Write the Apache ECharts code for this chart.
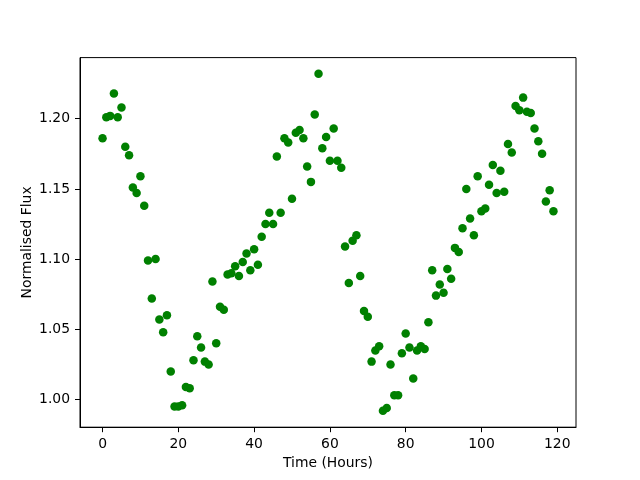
<!DOCTYPE html>
<html>
<head>
<meta charset="utf-8">
<script src="https://cdn.jsdelivr.net/npm/echarts@6/dist/echarts.min.js"></script>
<style>
  html, body { margin: 0; padding: 0; background: #fff; }
  #chart { width: 640px; height: 480px; }
</style>
</head>
<body>
<div id="chart"></div>
<script>
// time in hours, one reading per hour
const hours = Array.from({ length: 120 }, (_, i) => i)

const flux = [
    1.186, 1.201, 1.202, 1.218, 1.201, 1.208, 1.180, 1.174, 1.151, 1.147,
    1.159, 1.138, 1.099, 1.072, 1.100, 1.057, 1.048, 1.060, 1.020, 0.995,
    0.995, 0.996, 1.009, 1.008, 1.028, 1.045, 1.037, 1.027, 1.025, 1.084,
    1.040, 1.066, 1.064, 1.089, 1.090, 1.095, 1.088, 1.098, 1.104, 1.092,
    1.107, 1.096, 1.116, 1.125, 1.133, 1.125, 1.173, 1.133, 1.186, 1.183,
    1.143, 1.190, 1.192, 1.186, 1.166, 1.155, 1.203, 1.232, 1.179, 1.187,
    1.170, 1.193, 1.170, 1.165, 1.109, 1.083, 1.113, 1.117, 1.088, 1.063,
    1.059, 1.027, 1.035, 1.038, 0.992, 0.994, 1.025, 1.003, 1.003, 1.033,
    1.047, 1.037, 1.015, 1.035, 1.038, 1.036, 1.055, 1.092, 1.074, 1.082,
    1.076, 1.093, 1.086, 1.108, 1.105, 1.122, 1.150, 1.129, 1.117, 1.159,
    1.134, 1.136, 1.153, 1.167, 1.147, 1.163, 1.148, 1.182, 1.176, 1.209,
    1.206, 1.215, 1.205, 1.204, 1.193, 1.184, 1.175, 1.141, 1.149, 1.134
]

const xTicks = [0, 20, 40, 60, 80, 100, 120]
const yTicks = [1.00, 1.05, 1.10, 1.15, 1.20]

const font = 'DejaVu Sans'
const fontSize = 13.9

const chart = echarts.init(document.getElementById('chart'), null, { renderer: 'canvas' })

chart.setOption({
    animation: false,
    backgroundColor: '#fff',
    grid: {
        left: 80,
        right: 64,
        top: 57.6,
        bottom: 52.8,
        show: true,
        borderColor: '#000',
        borderWidth: 1,
        containLabel: false
    },
    xAxis: {
        type: 'value',
        min: -5.95,
        max: 124.95,
        name: 'Time (Hours)',
        nameLocation: 'middle',
        nameGap: 29,
        nameMoveOverlap: false,
        nameTextStyle: { fontFamily: font, fontSize: fontSize, color: '#000' },
        splitLine: { show: false },
        axisLine: { show: true, onZero: false, lineStyle: { color: '#000', width: 1 } },
        axisTick: { show: true, length: 5, customValues: xTicks, lineStyle: { color: '#000' } },
        axisLabel: {
            customValues: xTicks,
            margin: 10,
            fontFamily: font,
            fontSize: fontSize,
            color: '#000'
        }
    },
    yAxis: {
        type: 'value',
        min: 0.9803,
        max: 1.2435,
        name: 'Normalised Flux',
        nameLocation: 'middle',
        nameGap: 46,
        nameMoveOverlap: false,
        nameTextStyle: { fontFamily: font, fontSize: fontSize, color: '#000' },
        splitLine: { show: false },
        axisLine: { show: true, onZero: false, lineStyle: { color: '#000', width: 1 } },
        axisTick: { show: true, length: 5, customValues: yTicks, lineStyle: { color: '#000' } },
        axisLabel: {
            customValues: yTicks,
            margin: 10,
            fontFamily: font,
            fontSize: fontSize,
            color: '#000',
            formatter: v => v.toFixed(2)
        }
    },
    series: [
        {
            type: 'scatter',
            data: hours.map((h, i) => [h, flux[i]]),
            symbol: 'circle',
            symbolSize: 8.5,
            itemStyle: { color: '#008000', opacity: 1 },
            emphasis: { disabled: true }
        }
    ]
})
</script>
</body>
</html>
